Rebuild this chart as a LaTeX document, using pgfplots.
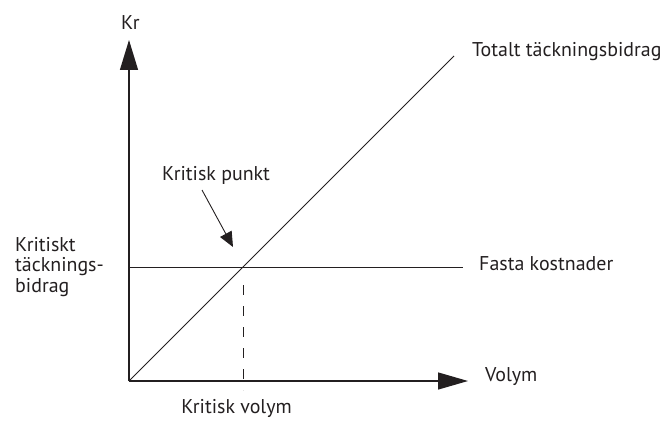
\documentclass[border=0pt]{standalone}
\usepackage{fontspec}
\setmainfont{PT Sans}
\usepackage{pgfplots}
\pgfplotsset{compat=1.18}
\usetikzlibrary{arrows.meta}
\definecolor{ink}{HTML}{231F20}
\newcommand{\lbl}{\fontsize{20}{21}\selectfont}

\begin{document}
\begin{tikzpicture}
\begin{axis}[scale only axis,width=670bp,height=423bp,
  xmin=-129,xmax=541,ymin=-42,ymax=381,
  hide axis,clip=false]
\path (rel axis cs:0,0) rectangle (rel axis cs:1,1);
% axes
\addplot[ink,line width=1.3pt,-{Triangle[length=30bp,width=18bp]}] coordinates {(0,0)(0,341)};
\addplot[ink,line width=1.3pt,-{Triangle[length=30bp,width=17bp]}] coordinates {(0,0)(339,0)};
% total contribution and fixed costs
\addplot[ink,line width=0.9pt] coordinates {(0,0)(325,325)};
\addplot[ink,line width=0.9pt] coordinates {(0,114)(334,114)};
\addplot[ink,line width=0.9pt,dash pattern=on 10bp off 11bp] coordinates {(114,96)(114,-9)};
% pointer to the critical point
\addplot[ink,line width=0.9pt,-{Triangle[length=15bp,width=13bp]}] coordinates {(73,191)(104,134)};
% labels
\node[anchor=west,font=\lbl,text=ink,inner sep=0pt] at (axis cs:-8,358) {Kr};
\node[anchor=west,font=\lbl,text=ink,inner sep=0pt] at (axis cs:343,329) {Totalt täckningsbidrag};
\node[anchor=west,font=\lbl,text=ink,inner sep=0pt] at (axis cs:33,206) {Kritisk punkt};
\node[anchor=west,font=\lbl,text=ink,inner sep=0pt,align=left] at (axis cs:-114,114) {Kritiskt\\täcknings-\\bidrag};
\node[anchor=west,font=\lbl,text=ink,inner sep=0pt] at (axis cs:350,117) {Fasta kostnader};
\node[anchor=west,font=\lbl,text=ink,inner sep=0pt] at (axis cs:356,4) {Volym};
\node[font=\lbl,text=ink,inner sep=0pt] at (axis cs:107.5,-27) {Kritisk volym};
\end{axis}
\end{tikzpicture}
\end{document}
